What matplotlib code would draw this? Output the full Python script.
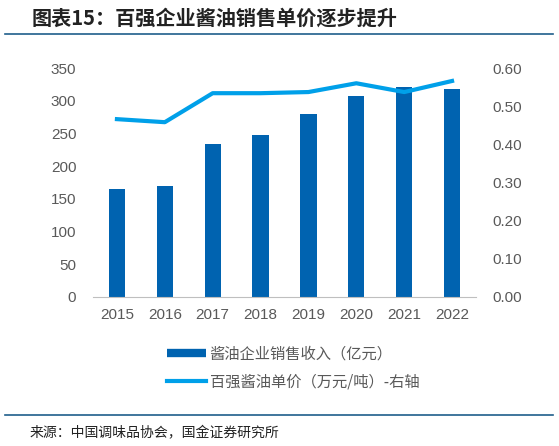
import matplotlib
matplotlib.use("Agg")
import matplotlib.pyplot as plt
from matplotlib.lines import Line2D

plt.rcParams['font.family'] = ['Noto Sans CJK SC', 'DejaVu Sans']

years = ['2015', '2016', '2017', '2018', '2019', '2020', '2021', '2022']
revenue = [165, 170, 234, 248, 280, 307, 321, 318]
price = [0.466, 0.458, 0.534, 0.534, 0.537, 0.560, 0.537, 0.566]
left_ticks = [0, 50, 100, 150, 200, 250, 300, 350]
right_ticks = [0.0, 0.1, 0.2, 0.3, 0.4, 0.5, 0.6]

W, H = 559, 446
fig = plt.figure(figsize=(W/100, H/100), dpi=100)
ax = fig.add_axes([93/W, 1-297/H, (476-93)/W, (297-68)/H])
ax2 = ax.twinx()

bar_c = '#0063B0'
line_c = '#00A0E9'
tick_c = '#595959'
num_font = 'Liberation Sans'

x = range(len(years))
ax.bar(x, revenue, width=0.34, color=bar_c, zorder=2)
ax2.plot(x, price, color=line_c, lw=3, zorder=3)

ax.set_xlim(-0.5, len(years)-0.5)
ax.set_ylim(0, 350)
ax2.set_ylim(0, 0.6)
ax.set_yticks(left_ticks)
ax.set_yticklabels([str(v) for v in left_ticks], family=num_font)
ax2.set_yticks(right_ticks)
ax2.set_yticklabels([f'{v:.2f}' for v in right_ticks], family=num_font)
ax.set_xticks(list(x))
ax.set_xticklabels(years, family=num_font)

for a in (ax, ax2):
    for s in ['top', 'left', 'right', 'bottom']:
        a.spines[s].set_visible(False)
    a.tick_params(length=0, labelsize=11, colors=tick_c)
ax.spines['bottom'].set_visible(True)
ax.spines['bottom'].set_color('#BFBFBF')
ax.tick_params(axis='x', pad=8)
ax.tick_params(axis='y', pad=12)
ax2.tick_params(axis='y', pad=12)

handles = [Line2D([0], [0], color=bar_c, lw=6, solid_capstyle='butt'),
           Line2D([0], [0], color=line_c, lw=3)]
labels = ['酱油企业销售收入（亿元）', '百强酱油单价（万元/吨）-右轴']
fig.legend(handles, labels, loc='upper left', bbox_to_anchor=(153/W, 1-332/H),
           frameon=False, fontsize=11, labelcolor=tick_c, handlelength=2.6,
           handletextpad=0.2, labelspacing=0.7)

fig.text(32/W, 1-18/H, '图表15：百强企业酱油销售单价逐步提升', fontsize=14.5,
         fontweight='bold', style='italic', va='center', ha='left', color='#222222')
fig.add_artist(Line2D([5/W, 553/W], [1-34/H, 1-34/H], color='#1F5F8B', lw=1.2))
fig.add_artist(Line2D([5/W, 553/W], [1-415/H, 1-415/H], color='#1F5F8B', lw=1.2))
fig.text(30/W, 1-433/H, '来源：中国调味品协会，国金证券研究所', fontsize=10,
         va='center', ha='left', color='#222222')

fig.savefig('out.png', dpi=100)
